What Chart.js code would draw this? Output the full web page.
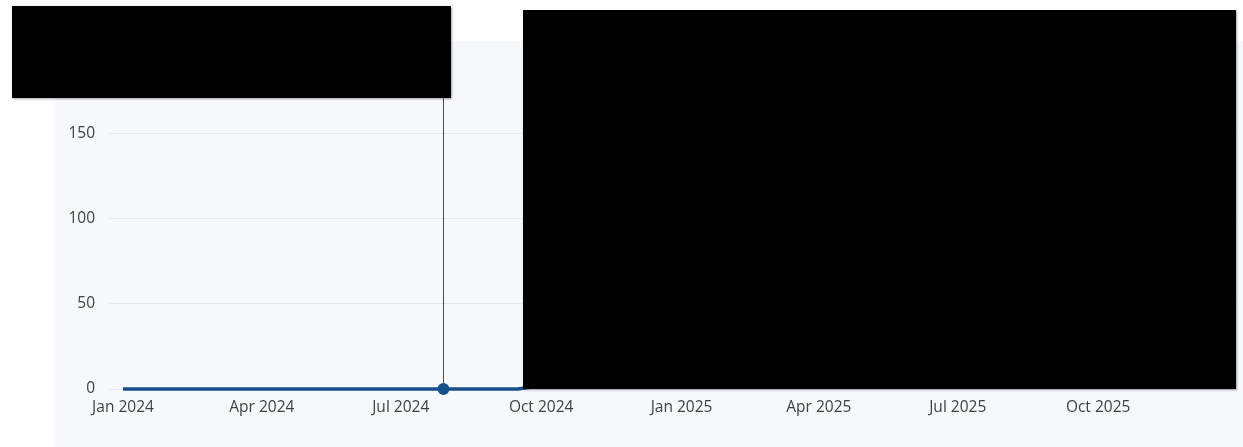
<!DOCTYPE html>
<html>
<head>
<meta charset="utf-8">
<script src="https://cdn.jsdelivr.net/npm/chart.js@4.4.1/dist/chart.umd.min.js"></script>
<style>
  body { margin: 0; background: #fff; width: 1243px; height: 447px; overflow: hidden; position: relative; }
  .panel { position: absolute; left: 55px; top: 41px; width: 1188px; height: 406px; background: #f5f9fc; }
  .redact { position: absolute; background: #000; box-shadow: 1px 1px 2px rgba(0,0,0,0.35); z-index: 5; }
</style>
</head>
<body>
<div class="panel"><canvas id="chart" width="1188" height="406"></canvas></div>
<div class="redact" style="left:12px;top:6px;width:439px;height:92px"></div>
<div class="redact" style="left:523px;top:10px;width:713px;height:379px"></div>
<script>
// weekly buckets (Mondays)
const weeks = [
  '2024-01-01','2024-01-08','2024-01-15','2024-01-22','2024-01-29','2024-02-05','2024-02-12','2024-02-19','2024-02-26',
  '2024-03-04','2024-03-11','2024-03-18','2024-03-25','2024-04-01','2024-04-08','2024-04-15','2024-04-22','2024-04-29',
  '2024-05-06','2024-05-13','2024-05-20','2024-05-27','2024-06-03','2024-06-10','2024-06-17','2024-06-24','2024-07-01',
  '2024-07-08','2024-07-15','2024-07-22','2024-07-29','2024-08-05','2024-08-12','2024-08-19','2024-08-26','2024-09-02',
  '2024-09-09','2024-09-16','2024-09-23','2024-09-30','2024-10-07','2024-10-14','2024-10-21','2024-10-28','2024-11-04',
  '2024-11-11','2024-11-18','2024-11-25','2024-12-02','2024-12-09','2024-12-16','2024-12-23','2024-12-30',
  '2025-01-06','2025-01-13','2025-01-20','2025-01-27','2025-02-03','2025-02-10','2025-02-17','2025-02-24','2025-03-03',
  '2025-03-10','2025-03-17','2025-03-24','2025-03-31','2025-04-07','2025-04-14','2025-04-21','2025-04-28','2025-05-05',
  '2025-05-12','2025-05-19','2025-05-26','2025-06-02','2025-06-09','2025-06-16','2025-06-23','2025-06-30','2025-07-07',
  '2025-07-14','2025-07-21','2025-07-28','2025-08-04','2025-08-11','2025-08-18','2025-08-25','2025-09-01','2025-09-08',
  '2025-09-15','2025-09-22','2025-09-29','2025-10-06','2025-10-13','2025-10-20','2025-10-27','2025-11-03','2025-11-10',
  '2025-11-17','2025-11-24','2025-12-01','2025-12-08','2025-12-15','2025-12-22','2025-12-29'
];
// values after mid-Sep 2024 sit under the redaction and are estimates
const counts = [
  0,0,0,0,0,0,0,0,0, 0,0,0,0,0,0,0,0,0, 0,0,0,0,0,0,0,0,0,
  0,0,0,0,0,0,0,0,0, 0,0,1,6,5,9,12,10,14, 11,16,13,18,15,20,17,22,
  12,9,15,18,14,22,19,25,31, 28,35,40,37,44,52,48,57,63,
  59,70,66,78,85,80,92,99,94, 108,115,110,124,131,126,140,147,143,
  156,162,158,170,165,172,160,151,155, 142,138,130,125,118,109,96
];
const tickDates = ['2024-01-01','2024-04-01','2024-07-01','2024-10-01','2025-01-01','2025-04-01','2025-07-01','2025-10-01'];
const tickLabels = ['Jan 2024','Apr 2024','Jul 2024','Oct 2024','Jan 2025','Apr 2025','Jul 2025','Oct 2025'];
const hoverIndex = 30;

const t0 = Date.UTC(2024, 0, 1);
const dayOf = s => { const p = s.split('-'); return (Date.UTC(+p[0], +p[1] - 1, +p[2]) - t0) / 86400000; };

const lineColor = '#174f8a';

const crosshair = {
  id: 'crosshair',
  beforeDatasetsDraw(chart) {
    const act = chart.getActiveElements();
    if (!act.length) return;
    const el = act[0].element;
    const ctx = chart.ctx;
    ctx.save();
    ctx.strokeStyle = '#4d4d4d';
    ctx.lineWidth = 1;
    ctx.beginPath();
    ctx.moveTo(Math.round(el.x) + 0.5, chart.chartArea.top);
    ctx.lineTo(Math.round(el.x) + 0.5, el.y);
    ctx.stroke();
    ctx.restore();
  }
};

Chart.defaults.font.family = '"Segoe UI", "Open Sans", sans-serif';
Chart.defaults.font.size = 15.5;
Chart.defaults.color = '#404040';

const chart = new Chart(document.getElementById('chart'), {
  type: 'line',
  data: {
    datasets: [{
      data: weeks.map((w, i) => ({ x: dayOf(w), y: counts[i] })),
      borderColor: lineColor,
      backgroundColor: lineColor,
      borderWidth: 3.5,
      clip: false,
      pointRadius: 0,
      pointHoverRadius: 5,
      pointHoverBorderWidth: 2,
      pointHoverBackgroundColor: lineColor,
      pointHoverBorderColor: lineColor,
      tension: 0
    }]
  },
  options: {
    responsive: false,
    animation: false,
    devicePixelRatio: 1,
    events: [],
    layout: { padding: { top: 24, right: 6, left: 0, bottom: 0 } },
    plugins: { legend: { display: false }, tooltip: { enabled: false } },
    scales: {
      x: {
        type: 'linear',
        min: 0,
        max: dayOf('2025-12-31'),
        grid: { display: false, drawTicks: false },
        border: { display: false },
        afterBuildTicks: s => { s.ticks = tickDates.map(d => ({ value: dayOf(d) })); },
        afterFit: s => { s.height = 58; },
        ticks: {
          autoSkip: false,
          maxRotation: 0,
          padding: 9,
          callback: (v, i) => tickLabels[i]
        }
      },
      y: {
        min: 0,
        max: 190,
        grid: { color: '#e4e7eb', tickLength: 14 },
        border: { display: false },
        afterFit: s => { s.width = 68; },
        ticks: { stepSize: 50, includeBounds: false, padding: 14 }
      }
    }
  },
  plugins: [crosshair]
});

chart.setActiveElements([{ datasetIndex: 0, index: hoverIndex }]);
chart.update('none');
</script>
</body>
</html>
